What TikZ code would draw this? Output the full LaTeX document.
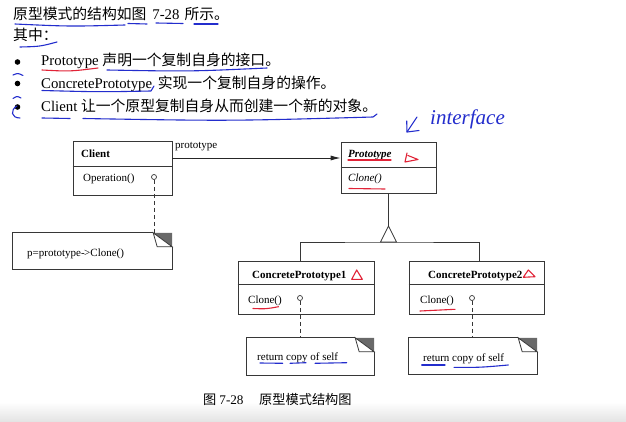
\documentclass[tikz,border=0pt]{standalone}
\usepackage{fontspec}
\setmainfont{Liberation Serif}
\newfontfamily\cjk{Noto Sans CJK SC}[Scale=1.0]
\usetikzlibrary{arrows.meta}
\definecolor{linec}{RGB}{55,55,55}
\definecolor{earc}{RGB}{105,105,105}
\definecolor{penblue}{RGB}{35,45,205}
\definecolor{penred}{RGB}{225,35,55}
\newcommand\dgmfont{\fontsize{11}{13}\selectfont}
\newcommand\hdfont{\fontsize{14.8}{18}\selectfont}
\newcommand\cpfont{\fontsize{13.2}{16}\selectfont}
\begin{document}
\begin{tikzpicture}[x=1pt,y=-1pt,
  ln/.style={draw=linec, line width=0.8pt},
  box/.style={ln, fill=white, inner sep=0pt, rectangle},
  notebox/.style={inner sep=0pt, rectangle},
  dtxt/.style={inner sep=0pt, anchor=base west, font=\dgmfont},
  head/.style={inner sep=0pt, anchor=base west, font=\hdfont},
  bul/.style={circle, fill=black, inner sep=0pt, minimum size=5.6pt},
  ctxt/.style={inner sep=0pt, anchor=base west, font=\cpfont},
  lolli/.style={circle, draw=linec, line width=0.7pt, fill=white, inner sep=0pt, minimum size=5pt},
  bluepen/.style={draw=penblue, line width=1.1pt, line cap=round, line join=round},
  redpen/.style={draw=penred, line width=1.1pt, line cap=round, line join=round}
]
\useasboundingbox (0,0) rectangle (626,422);
\fill[white] (0,0) rectangle (626,422);
\shade[top color=white, bottom color=black!11] (0,402) rectangle (626,422);

% ---------- header text ----------
\node[head] (h1) at (13,20) {{\cjk 原型模式的结构如图}\hspace{6pt}7-28\hspace{5pt}{\cjk 所示。}};
\node[head] (h2) at (13,40.5) {{\cjk 其中：}};
\node[bul] (b1) at (17.5,62) {};
\node[bul] (b2) at (17.5,83.5) {};
\node[bul] (b3) at (17.5,107) {};
\node[head] (t1) at (41,66) {Prototype {\cjk 声明一个复制自身的接口。}};
\node[head] (t2) at (41,88.5) {ConcretePrototype\hspace{2pt} {\cjk 实现一个复制自身的操作。}};
\node[head] (t3) at (41,111.7) {Client {\cjk 让一个原型复制自身从而创建一个新的对象。}};

% ---------- class boxes ----------
\node[box, minimum width=99pt, minimum height=54pt] (client) at (122.5,168) {};
\draw[ln] (client.west |- 0,166) -- (client.east |- 0,166);
\node[box, minimum width=95pt, minimum height=51pt] (proto) at (388.5,167.5) {};
\draw[ln] (proto.west |- 0,167) -- (proto.east |- 0,167);
\node[box, minimum width=136pt, minimum height=53pt] (cp1) at (306,287.5) {};
\draw[ln] (cp1.west |- 0,284) -- (cp1.east |- 0,284);
\node[box, minimum width=135pt, minimum height=53pt] (cp2) at (476.5,287.5) {};
\draw[ln] (cp2.west |- 0,284) -- (cp2.east |- 0,284);

% ---------- notes ----------
\node[notebox, minimum width=159pt, minimum height=36pt] (note0) at (92.5,251) {};
\node[notebox, minimum width=127pt, minimum height=37pt] (note1) at (310.5,356.5) {};
\node[notebox, minimum width=128pt, minimum height=36pt] (note2) at (473,356) {};
\foreach \n in {note0,note1,note2}{
  \fill[white] (\n.north west) rectangle (\n.south east);
  \draw[ln] ([xshift=-19pt]\n.north east) -- (\n.north west) -- (\n.south west) -- (\n.south east) -- ([yshift=-14pt]\n.north east);
  \fill[earc] ([xshift=-19pt]\n.north east) -- (\n.north east) -- ([yshift=-14pt]\n.north east) -- cycle;
  \draw[ln, fill=white] ([xshift=-19pt]\n.north east) -- ([yshift=-14pt]\n.north east) -- ([xshift=-15pt,yshift=-14pt]\n.north east) -- cycle;
}

% ---------- texts in diagram ----------
\node[dtxt, font=\dgmfont\bfseries] (clientT) at (81,157.5) {Client};
\node[dtxt] (opT) at (83,181.7) {Operation()};
\node[dtxt] (assocT) at (175,149) {prototype};
\node[dtxt, font=\dgmfont\bfseries\itshape] (protoT) at (348,158) {Prototype};
\node[dtxt, font=\dgmfont\itshape] (cloneT) at (348,181.5) {Clone()};
\node[dtxt, font=\dgmfont\bfseries] (cp1T) at (252,278) {ConcretePrototype1};
\node[dtxt] (cl1) at (248,303.5) {Clone()};
\node[dtxt, font=\dgmfont\bfseries] (cp2T) at (428,278) {ConcretePrototype2};
\node[dtxt] (cl2) at (420,303.5) {Clone()};
\node[dtxt] (n0T) at (27,256) {p=prototype-\kern-0.5pt>Clone()};
\node[dtxt] (n1T) at (257,360) {return copy of self};
\node[dtxt] (n2T) at (423,361.5) {return copy of self};

% ---------- connectors ----------
\draw[ln, draw=black!85, -{Latex[length=10pt,width=5pt]}] ([yshift=10pt]client.east) -- ([yshift=9.5pt]proto.west);
\coordinate (apex) at (388.5,226);
\coordinate (bar) at (388.5,242);
\draw[ln] (proto.south) -- (apex);
\draw[ln, fill=white] (apex) -- ++(-8,16) -- ++(16,0) -- cycle;
\draw[ln] ([xshift=-6pt]cp1.north) |- (bar) -| ([xshift=2.5pt]cp2.north);

\node[lolli] (l0) at (154,177) {};
\node[lolli] (l1) at (300,298) {};
\node[lolli] (l2) at (472,298) {};
\draw[ln, dash pattern=on 4pt off 3pt] (l0) -- (l0 |- note0.north);
\draw[ln, dash pattern=on 4pt off 3pt] (l1) -- (l1 |- note1.north);
\draw[ln, dash pattern=on 4pt off 3pt] (l2) -- (l2 |- note2.north);

% ---------- handwritten annotations ----------
\draw[bluepen] (15,24) .. controls (70,26.5) .. (125,25);
\draw[bluepen] (128,23.5) -- (147,24);
\draw[bluepen] (156,23) -- (183,23.5);
\draw[bluepen] (194,24) -- (218,24);
\draw[bluepen] (20,47) .. controls (40,46.5) .. (57,42);
\draw[redpen] (42,70) .. controls (70,71.5) .. (98,68);
\draw[bluepen] (107,70) .. controls (190,71.5) .. (267,68);
\draw[bluepen] (13,75) .. controls (18,73) .. (23,75.5);
\draw[bluepen] (42,90.5) .. controls (100,92) .. (151,91) -- (154,86);
\draw[bluepen] (13,98.5) .. controls (17,96) .. (21,98);
\draw[bluepen] (17,106) .. controls (10,110) and (11,118) .. (20,118);
\draw[bluepen] (42,118) -- (70,118.5);
\draw[bluepen] (83,118.5) .. controls (230,121) .. (373,117) -- (377,114);
% interface
\draw[bluepen] (417,117) -- (407,132);
\draw[bluepen] (406.7,121) -- (407,132) -- (419,130.5);
\node[inner sep=0pt, anchor=base west, text=penblue, font=\fontsize{21}{24}\selectfont\itshape] (iface) at (430,125) {interface};
% diagram marks
\draw[redpen] (407,153) -- (405,162) -- (418,159.5) -- (408,155.5);
\draw[redpen] (348,160) -- (391,160);
\draw[redpen] (349,188.5) -- (385,189);
\draw[redpen] (356.7,270) -- (351.7,279.3) -- (362.3,279.3) -- cycle;
\draw[redpen] (528.3,270) -- (523.3,277.3) -- (535,276.7) -- cycle;
\draw[redpen] (253,308.5) .. controls (266,309) .. (278.5,306.7);
\draw[redpen] (420,311) .. controls (438,310.5) .. (455,309.3);
\draw[bluepen] (260,363) -- (282.7,363.3);
\draw[bluepen] (290,363.3) -- (306,362.7);
\draw[bluepen] (315,363.3) -- (346.7,362.7);
\draw[bluepen] (421.7,365) -- (445,365);
\draw[bluepen] (454,367.3) .. controls (480,367.5) .. (508.3,365);

% ---------- caption ----------
\node[ctxt] (cap1) at (203,404) {{\cjk 图}\hspace{3pt}7-28};
\node[ctxt] (cap2) at (259,404) {{\cjk 原型模式结构图}};
\end{tikzpicture}
\end{document}
